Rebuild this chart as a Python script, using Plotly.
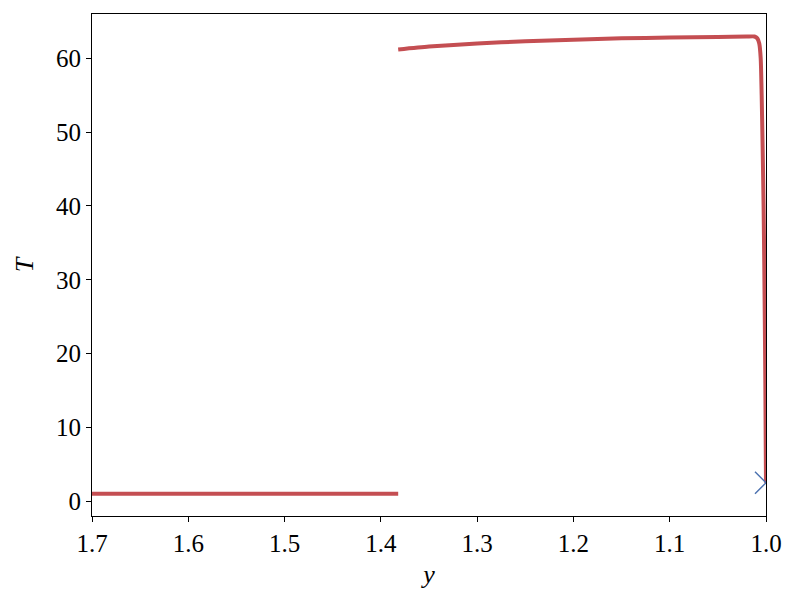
import plotly.graph_objects as go

# low branch (T ~ 1)
y_low = [1.70, 1.60, 1.50, 1.45, 1.40, 1.382]
T_low = [1.0, 1.0, 1.0, 1.0, 1.0, 1.0]

# upper branch
y_high = [1.382, 1.35, 1.30, 1.25, 1.20, 1.15, 1.10, 1.05, 1.02, 1.012, 1.009, 1.007,
          1.0055, 1.0045, 1.0035, 1.0025, 1.0018, 1.0012, 1.0007, 1.0003, 1.0]
T_high = [61.2, 61.6, 62.0, 62.3, 62.5, 62.7, 62.8, 62.9, 62.95, 62.95, 62.7, 62.0,
          60.0, 55.0, 48.0, 40.0, 32.0, 24.0, 16.0, 8.0, 2.5]

# marker point
y_pt = [1.0]
T_pt = [2.5]

red = "#c44e52"
blue = "#4c72b0"

fig = go.Figure()
fig.add_trace(go.Scatter(x=y_low, y=T_low, mode="lines",
                         line=dict(color=red, width=4), showlegend=False))
fig.add_trace(go.Scatter(x=y_high, y=T_high, mode="lines",
                         line=dict(color=red, width=4, shape="spline", smoothing=0.6),
                         showlegend=False))
fig.add_trace(go.Scatter(x=y_pt, y=T_pt, mode="markers",
                         marker=dict(symbol="x-thin-open", size=22, color=blue,
                                     line=dict(color=blue, width=1.5)),
                         cliponaxis=True, showlegend=False))

font_family = "Liberation Serif"
fig.update_layout(
    width=798, height=604,
    margin=dict(l=84, r=40, t=6, b=96, autoexpand=False),
    paper_bgcolor="white", plot_bgcolor="white",
    font=dict(family=font_family, size=25, color="black"),
    xaxis=dict(range=[1.7, 1.0], tickvals=[1.7, 1.6, 1.5, 1.4, 1.3, 1.2, 1.1, 1.0],
               ticktext=["1.7", "1.6", "1.5", "1.4", "1.3", "1.2", "1.1", "1.0"],
               ticks="outside", ticklen=5, tickwidth=1.2, tickcolor="black",
               showline=True, linecolor="black", linewidth=1.2, mirror=True,
               showgrid=False, zeroline=False,
               title=dict(text="<i>y</i>", font=dict(size=26), standoff=8)),
    yaxis=dict(range=[-2.0, 66.0], tickvals=[0, 10, 20, 30, 40, 50, 60],
               ticks="outside", ticklen=5, tickwidth=1.2, tickcolor="black",
               showline=True, linecolor="black", linewidth=1.2, mirror=True,
               showgrid=False, zeroline=False,
               title=dict(text="<i>T</i>", font=dict(size=26), standoff=14)),
)

fig.write_html("out.html")
